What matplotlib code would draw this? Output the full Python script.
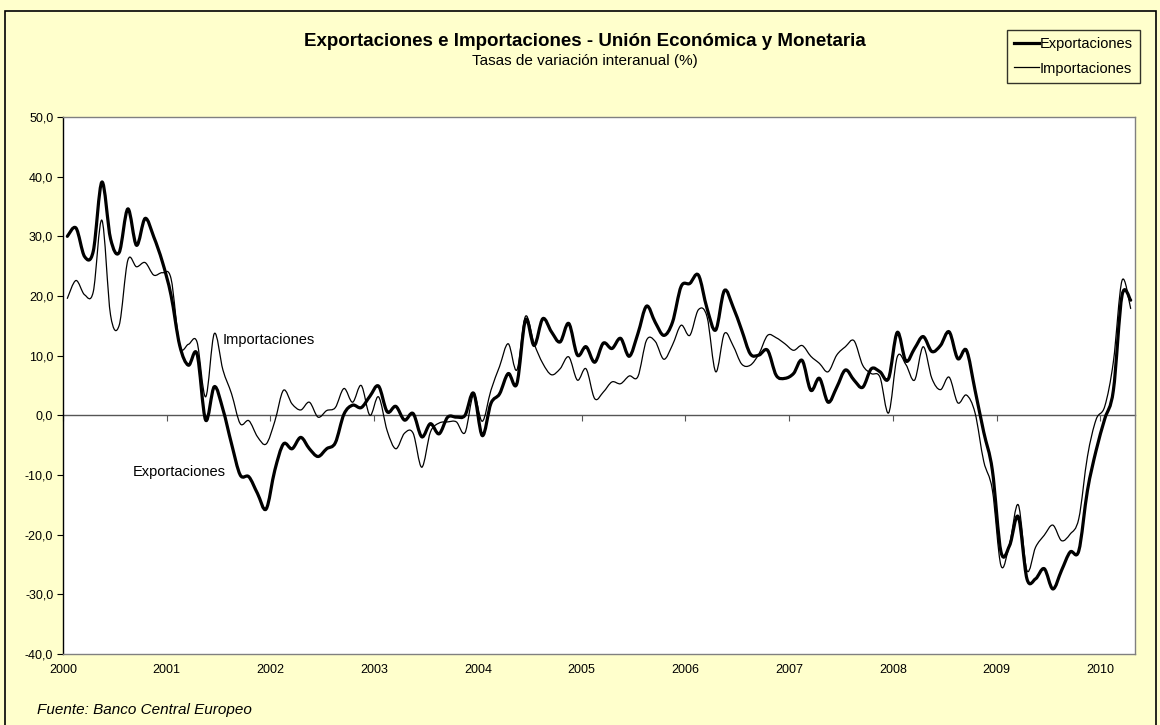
import numpy as np
import matplotlib
matplotlib.use('Agg')
import matplotlib.pyplot as plt
from matplotlib.patches import Rectangle, PathPatch
from matplotlib.path import Path
from matplotlib.lines import Line2D

plt.rcParams['font.family'] = ['Liberation Sans', 'DejaVu Sans']

# monthly year-on-year rates, Jan 2000 - Apr 2010
exportaciones = [
    30.0, 31.4, 26.6, 27.5, 39.1, 29.6, 27.3, 34.6, 28.5, 33.0, 29.9, 25.7,
    20.1, 11.7, 8.4, 10.3, -0.8, 4.8, 1.0, -4.8, -10.0, -10.3, -13.1, -15.7,
    -9.2, -4.8, -5.6, -3.7, -5.6, -6.9, -5.6, -4.6, 0.2, 1.7, 1.3, 3.2,
    4.9, 0.6, 1.5, -0.8, 0.3, -3.6, -1.4, -3.1, -0.3, -0.3, 0.0, 3.7,
    -3.4, 2.0, 3.6, 7.0, 5.3, 16.0, 11.7, 16.2, 14.0, 12.3, 15.4, 10.1,
    11.5, 8.9, 12.1, 11.2, 12.9, 9.9, 13.7, 18.3, 15.6, 13.4, 15.6, 21.6,
    22.1, 23.5, 17.9, 14.3, 20.9, 18.2, 14.3, 10.3, 10.1, 10.9, 6.7, 6.2,
    7.0, 9.2, 4.2, 6.2, 2.2, 4.7, 7.6, 5.9, 4.7, 7.8, 7.3, 6.2,
    13.9, 9.1, 11.2, 13.2, 10.7, 11.7, 14.0, 9.5, 10.9, 4.2, -2.8, -9.2,
    -22.9, -21.8, -17.0, -27.4, -27.4, -25.7, -29.1, -26.0, -22.9, -22.7, -12.6, -5.9,
    -0.6, 4.2, 20.1, 19.3,
]
importaciones = [
    19.6, 22.6, 20.2, 20.7, 32.7, 16.8, 15.1, 26.0, 24.9, 25.6, 23.5, 23.9,
    22.9, 11.7, 11.9, 12.3, 3.1, 13.7, 7.6, 3.6, -1.4, -0.9, -3.6, -4.8,
    -1.0, 4.2, 1.9, 0.9, 2.2, -0.3, 0.8, 1.3, 4.5, 2.2, 5.0, 0.0,
    3.1, -2.6, -5.6, -3.0, -3.0, -8.7, -2.8, -1.3, -1.1, -1.1, -2.9, 3.5,
    -1.0, 4.2, 8.2, 12.0, 7.6, 16.6, 12.0, 8.7, 6.8, 7.8, 9.8, 5.9,
    7.8, 2.8, 3.9, 5.6, 5.3, 6.6, 6.5, 12.6, 12.4, 9.4, 11.8, 15.1,
    13.4, 17.7, 16.5, 7.3, 13.7, 11.7, 8.6, 8.4, 10.3, 13.4, 13.0, 12.0,
    10.9, 11.7, 9.9, 8.7, 7.3, 10.1, 11.5, 12.5, 8.4, 7.0, 6.4, 0.4,
    9.8, 8.5, 5.9, 11.5, 6.2, 4.3, 6.4, 2.1, 3.4, 0.4, -7.7, -12.5,
    -25.2, -21.5, -15.0, -26.0, -22.1, -20.1, -18.4, -21.0, -19.9, -17.3, -6.9, -0.7,
    1.5, 9.0, 22.6, 17.9,
]
years = list(range(2000, 2011))
yticks = list(range(-40, 51, 10))

W, H = 1160, 725
bg = '#FFFFCC'


def smooth_path(xs, ys):
    # Excel-style smoothed line: cubic bezier through every data point
    pts = np.column_stack([xs, ys]).astype(float)
    n = len(pts)
    verts = [pts[0]]
    codes = [Path.MOVETO]
    for i in range(n - 1):
        p0 = pts[max(i - 1, 0)]
        p1 = pts[i]
        p2 = pts[i + 1]
        p3 = pts[min(i + 2, n - 1)]
        verts += [p1 + (p2 - p0) / 6, p2 - (p3 - p1) / 6, p2]
        codes += [Path.CURVE4] * 3
    return Path(verts, codes)


fig = plt.figure(figsize=(W / 100, H / 100), dpi=100)
fig.patch.set_facecolor(bg)
# chart area frame
fig.add_artist(Rectangle((5 / W, -0.05), 1151 / W, 1.05 - 11 / H, transform=fig.transFigure,
                         fill=False, edgecolor='black', lw=1.2))

ax = fig.add_axes([63 / W, 1 - 654 / H, (1135 - 63) / W, (654 - 117) / H])
ax.set_facecolor('white')

x = np.arange(len(exportaciones))
ax.add_patch(PathPatch(smooth_path(x, exportaciones), fill=False, edgecolor='black',
                       lw=2.3, joinstyle='round', capstyle='round', zorder=3))
ax.add_patch(PathPatch(smooth_path(x, importaciones), fill=False, edgecolor='black',
                       lw=0.9, joinstyle='round', capstyle='round', zorder=3))

ax.set_xlim(-0.5, len(x) - 0.5)
ax.set_ylim(-40, 50)

for s in ['top', 'right', 'bottom']:
    ax.spines[s].set_color('#808080')
    ax.spines[s].set_linewidth(1.0)
ax.spines['left'].set_color('black')
ax.spines['left'].set_linewidth(1.0)

ax.set_yticks(yticks)
ax.set_yticklabels([f'{v:.1f}'.replace('.', ',') for v in yticks])
ax.tick_params(axis='y', direction='out', length=4, width=0.8, labelsize=9, pad=3)

xt = [-0.5 + 12 * k for k in range(len(years))]
ax.set_xticks(xt)
ax.set_xticklabels([str(y) for y in years])
ax.tick_params(axis='x', length=0, labelsize=9, pad=7)

# category axis crossing at zero
zero = ax.secondary_xaxis(40 / 90)
zero.set_xticks(xt)
zero.tick_params(axis='x', direction='out', length=4, width=0.8, color='#555555', labelbottom=False)
zero.spines['bottom'].set_color('#555555')
zero.spines['bottom'].set_linewidth(1.0)

ax.text(18.0, 12.6, 'Importaciones', fontsize=10.5, va='center', ha='left')
ax.text(7.6, -9.5, 'Exportaciones', fontsize=10.5, va='center', ha='left')

fig.text(585 / W, 1 - 41 / H, 'Exportaciones e Importaciones - Unión Económica y Monetaria',
         ha='center', va='center', fontsize=13.5, fontweight='bold')
fig.text(585 / W, 1 - 61 / H, 'Tasas de variación interanual (%)',
         ha='center', va='center', fontsize=11)
fig.text(37 / W, 1 - 710 / H, 'Fuente: Banco Central Europeo',
         ha='left', va='center', fontsize=11, style='italic')

handles = [Line2D([], [], color='black', lw=2.3), Line2D([], [], color='black', lw=0.9)]
leg = ax.legend(handles, ['Exportaciones', 'Importaciones'], loc='upper right',
                bbox_to_anchor=(1140 / W, 1 - 30 / H),
                bbox_transform=fig.transFigure, frameon=True, fancybox=False,
                fontsize=10.5, handlelength=1.7, handletextpad=0.05,
                borderpad=0.5, labelspacing=0.7, borderaxespad=0)
leg.get_frame().set_edgecolor('black')
leg.get_frame().set_linewidth(1.0)
leg.get_frame().set_facecolor(bg)

fig.savefig('out.png', dpi=100, facecolor=bg)
